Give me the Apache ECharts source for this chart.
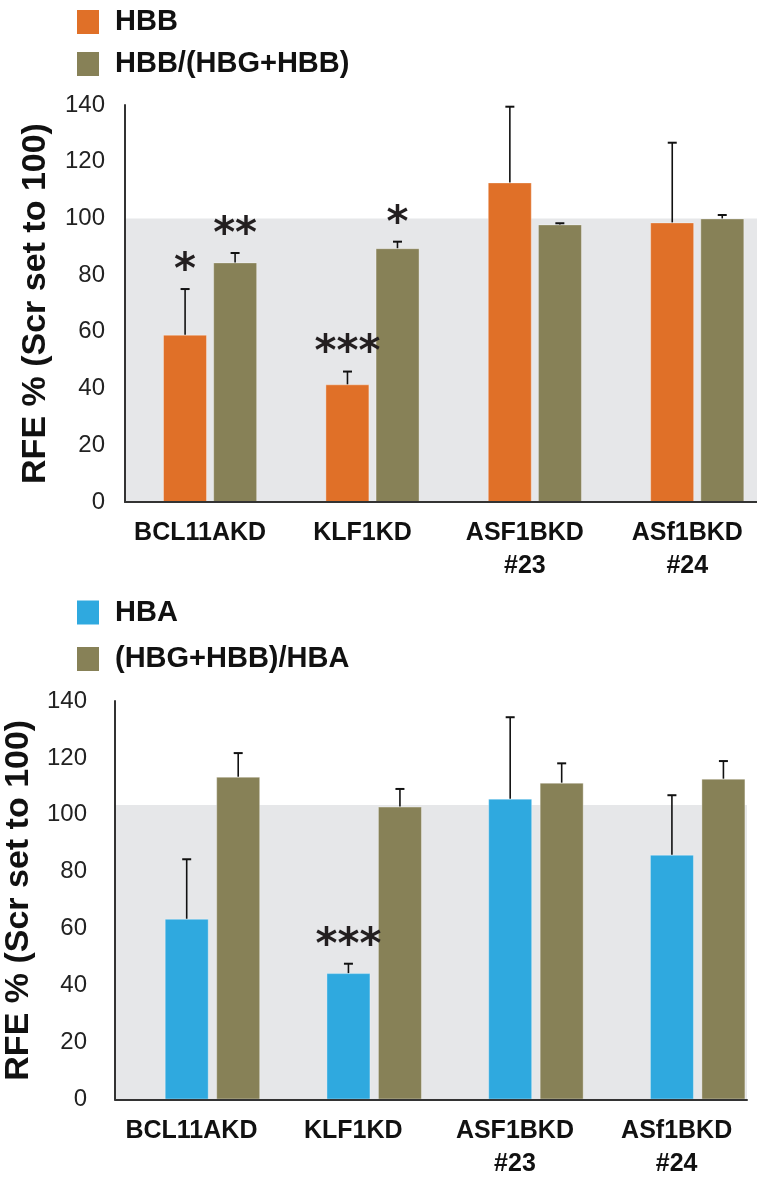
<!DOCTYPE html>
<html>
<head>
<meta charset="utf-8">
<script src="https://cdn.jsdelivr.net/npm/echarts@6/dist/echarts.min.js"></script>
<style>
html, body { margin: 0; padding: 0; background: #fff; }
#chart { width: 757px; height: 1180px; }
</style>
</head>
<body>
<div id="chart"></div>
<script>
var categories = ['BCL11AKD', 'KLF1KD', 'ASF1BKD\n#23', 'ASf1BKD\n#24'];
var yTicks = [0, 20, 40, 60, 80, 100, 120, 140];

// top panel
var hbb = [59, 41.5, 112.7, 98.6];
var hbbSd = [16.1, 4.5, 26.7, 28.1];
var hbbSig = ['*', '***', '', ''];
var hbbRatio = [84.5, 89.5, 97.9, 100];
var hbbRatioSd = [3.3, 2.3, 0.4, 1.2];
var hbbRatioSig = ['**', '*', '', ''];
var topShade = 100;

// bottom panel
var hba = [63.5, 44.4, 105.7, 86.0];
var hbaSd = [20.9, 3.3, 28.6, 20.9];
var hbaSig = ['', '***', '', ''];
var hbaRatio = [113.4, 102.9, 111.3, 112.7];
var hbaRatioSd = [8.3, 6.2, 6.8, 6.2];
var hbaRatioSig = ['', '', '', ''];
var bottomShade = 103.5;

var ORANGE = '#e07028', OLIVE = '#878157', BLUE = '#2fa9df', SHADE = '#e6e7e9';
var FONT = 'Liberation Sans, Arial, sans-serif';
var BAR_W = 44;

function pairs(vals) {
	return vals.map(function (v, i) { return [i, v]; });
}

function errData(vals, sd) {
	return vals.map(function (v, i) { return [i, v, v + sd[i]]; });
}

// error bar (upward only) plus significance stars
function errRender(sig, dx) {
	return function (params, api) {
		var i = api.value(0);
		var base = api.coord([i, api.value(1)]);
		var top = api.coord([i, api.value(2)]);
		var x = base[0] + dx;
		var kids = [
			{ type: 'line', shape: { x1: x, y1: base[1], x2: x, y2: top[1] }, style: { stroke: '#111', lineWidth: 1.6 } },
			{ type: 'line', shape: { x1: x - 4.5, y1: top[1], x2: x + 4.5, y2: top[1] }, style: { stroke: '#111', lineWidth: 2 } }
		];
		var s = sig[params.dataIndex];
		if (s) {
			kids.push({
				type: 'text', x: x, y: top[1] - 17,
				style: { text: s, font: 'bold 42px "DejaVu Sans"', fill: '#231f20', align: 'center', verticalAlign: 'middle' }
			});
		}
		return { type: 'group', children: kids };
	};
}

function xAxisOf(gridIndex, min, max, shift) {
	return {
		type: 'value', gridIndex: gridIndex, min: min, max: max, z: 5,
		axisLine: { show: true, onZero: false, lineStyle: { color: '#333', width: 2 } },
		axisTick: { show: false },
		splitLine: { show: false },
		axisLabel: {
			customValues: [0, 1, 2, 3],
			formatter: function (v) { return categories[Math.round(v)]; },
			fontFamily: FONT, fontSize: 25, fontWeight: 'bold', color: '#111',
			lineHeight: 33, margin: 15, padding: [0, shift, 0, 0]
		}
	};
}

function yAxisOf(gridIndex, labelMargin, nameGap) {
	return {
		type: 'value', gridIndex: gridIndex, min: 0, max: 140, interval: 20, z: 5,
		axisLine: { show: true, onZero: false, lineStyle: { color: '#333', width: 2 } },
		axisTick: { show: false },
		splitLine: { show: false },
		axisLabel: {
			fontFamily: FONT, fontSize: 24, color: '#222', margin: labelMargin,
			customValues: yTicks
		},
		name: 'RFE % (Scr set to 100)', nameLocation: 'middle', nameGap: nameGap,
		nameTextStyle: { fontFamily: FONT, fontSize: 34, fontWeight: 'bold', color: '#111' }
	};
}

function legendOf(top, gap, names) {
	return {
		orient: 'vertical', left: 77, top: top, padding: 0,
		itemWidth: 22, itemHeight: 24, itemGap: gap,
		icon: 'rect', data: names, selectedMode: false,
		itemStyle: { borderWidth: 0 },
		textStyle: { fontFamily: FONT, fontSize: 29, fontWeight: 'bold', color: '#111', padding: [0, 0, 0, 11] }
	};
}

function barOf(name, vals, color, axisIdx, gap, shade) {
	var s = {
		type: 'bar', name: name, data: pairs(vals),
		xAxisIndex: axisIdx, yAxisIndex: axisIdx,
		barWidth: BAR_W, barGap: gap, z: 2,
		itemStyle: { color: color, borderColor: 'rgba(255,255,255,0.35)', borderWidth: 1 }
	};
	if (shade != null) {
		s.markArea = {
			silent: true, itemStyle: { color: SHADE },
			data: [[{ yAxis: 0 }, { yAxis: shade }]]
		};
	}
	return s;
}

function errOf(vals, sd, sig, axisIdx, dx) {
	return {
		type: 'custom', data: errData(vals, sd),
		xAxisIndex: axisIdx, yAxisIndex: axisIdx, z: 4,
		encode: { x: 0, y: [1, 2] },
		renderItem: errRender(sig, dx)
	};
}

var chart = echarts.init(document.getElementById('chart'), null, { renderer: 'canvas' });
chart.setOption({
	animation: false,
	backgroundColor: '#fff',
	grid: [
		{ left: 125, right: 0, top: 105, height: 397, outerBoundsMode: 'none' },
		{ left: 115, right: 10, top: 701, height: 398.5, outerBoundsMode: 'none' }
	],
	legend: [
		legendOf(7.5, 13, ['HBB', 'HBB/(HBG+HBB)']),
		legendOf(598, 17.5, ['HBA', '(HBG+HBB)/HBA'])
	],
	xAxis: [xAxisOf(0, -0.524, 3.368, 20), xAxisOf(1, -0.6025, 3.305, 42)],
	yAxis: [yAxisOf(0, 20, 72), yAxisOf(1, 28, 71)],
	series: [
		barOf('HBB', hbb, ORANGE, 0, '14%', topShade),
		barOf('HBB/(HBG+HBB)', hbbRatio, OLIVE, 0, '14%'),
		errOf(hbb, hbbSd, hbbSig, 0, -25),
		errOf(hbbRatio, hbbRatioSd, hbbRatioSig, 0, 25),
		barOf('HBA', hba, BLUE, 1, '17%', bottomShade),
		barOf('(HBG+HBB)/HBA', hbaRatio, OLIVE, 1, '17%'),
		errOf(hba, hbaSd, hbaSig, 1, -25.75),
		errOf(hbaRatio, hbaRatioSd, hbaRatioSig, 1, 25.75)
	]
});
</script>
</body>
</html>
